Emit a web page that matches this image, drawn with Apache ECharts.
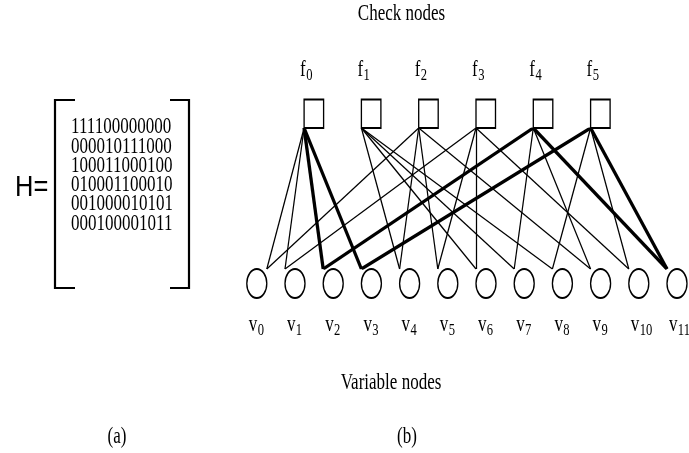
<!DOCTYPE html>
<html>
<head>
<meta charset="utf-8">
<title>Tanner graph</title>
<script src="https://cdn.jsdelivr.net/npm/echarts@6/dist/echarts.min.js"></script>
<style>
  html, body { margin: 0; padding: 0; background: #fff; }
  #chart { width: 689px; height: 453px; }
</style>
</head>
<body>
<div id="chart"></div>
<script>
// Parity-check matrix, one string per check node (row) — column i is variable node v_i.
const H_ROWS = [
  '111100000000',
  '000010111000',
  '100011000100',
  '010001100010',
  '001000010101',
  '000100001011'
];
const checkNodes = ['f0', 'f1', 'f2', 'f3', 'f4', 'f5'];
const varNodes = ['v0', 'v1', 'v2', 'v3', 'v4', 'v5', 'v6', 'v7', 'v8', 'v9', 'v10', 'v11'];
// Edges of the highlighted length-6 cycle, as [check, variable].
const cycleEdges = [[0, 2], [0, 3], [4, 2], [4, 11], [5, 3], [5, 11]];
const titleTop = 'Check nodes';
const titleBottom = 'Variable nodes';
const matrixName = 'H=';
const captionA = '(a)';
const captionB = '(b)';

// ---- layout & style ----
const SERIF = '"Liberation Serif", "Times New Roman", serif';
const SANS = '"Liberation Sans", Arial, sans-serif';
const FS = 23;          // main text size
const SUB_FS = 17;      // subscript size
const SX = 0.74;        // horizontal squeeze of all serif text
const MID = 0.3375;     // em-middle above baseline for the serif face
const GRID = { left: 246.8, top: 128, width: 420.2, height: 141 };
const NODE_W = 20, NODE_H = 29;   // variable node ellipse
const SQ_W = 19.5, SQ_H = 28.5;   // check node square
const THIN = 1.25, THICK = 3.3;

const nVar = varNodes.length;
const unitPx = GRID.width / (nVar - 1);
// check nodes sit every 1.5 variable slots
const checkX = j => 1.5 * (j + 1);
// edges meet a variable node at its upper-left; v0 is joined at its upper-right
const varAttach = i => (i === 0 ? i + NODE_W / unitPx : i);

const isCycle = (j, i) => cycleEdges.some(e => e[0] === j && e[1] === i);
const edgeData = [];
H_ROWS.forEach((row, j) => {
  row.split('').forEach((bit, i) => {
    if (bit === '1') {
      edgeData.push({
        coords: [[checkX(j), 1], [varAttach(i), 0]],
        lineStyle: { width: isCycle(j, i) ? THICK : THIN }
      });
    }
  });
});
edgeData.sort((a, b) => a.lineStyle.width - b.lineStyle.width);

const ELLIPSE = 'path://M10,0A10,14.5,0,1,1,10,29A10,14.5,0,1,1,10,0Z';

const chart = echarts.init(document.getElementById('chart'), null, { renderer: 'canvas' });
chart.setOption({
  animation: false,
  backgroundColor: '#fff',
  grid: { left: GRID.left, top: GRID.top, width: GRID.width, height: GRID.height, containLabel: false },
  xAxis: { type: 'value', min: 0, max: nVar - 1, show: false },
  yAxis: { type: 'value', min: 0, max: 1, show: false },
  series: [
    {
      type: 'lines',
      coordinateSystem: 'cartesian2d',
      polyline: false,
      silent: true,
      z: 1,
      lineStyle: { color: '#000', opacity: 1, width: THIN },
      data: edgeData
    },
    {
      type: 'scatter',
      silent: true,
      clip: false,
      z: 2,
      symbol: 'rect',
      symbolSize: [SQ_W, SQ_H],
      symbolOffset: [SQ_W / 2, -SQ_H / 2],
      itemStyle: { color: '#fff', borderColor: '#000', borderWidth: 1.6, opacity: 1 },
      data: checkNodes.map((n, j) => [checkX(j), 1])
    },
    {
      type: 'scatter',
      silent: true,
      clip: false,
      z: 2,
      symbol: ELLIPSE,
      symbolSize: [NODE_W, NODE_H],
      symbolOffset: [NODE_W / 2, NODE_H / 2],
      itemStyle: { color: '#fff', borderColor: '#000', borderWidth: 1.6, opacity: 1 },
      data: varNodes.map((n, i) => [i, 0])
    }
  ]
});

// ---- text ----
function textEl(x, y, str, size, family, align) {
  return {
    type: 'text', x: x, y: y, silent: true,
    style: {
      text: str, fontSize: size, fontFamily: family, fill: '#000',
      textAlign: align, align: align,
      textVerticalAlign: 'middle', verticalAlign: 'middle'
    }
  };
}
// squeezed serif text placed by its baseline
function squeezed(x, baseline, str, align) {
  return {
    type: 'group', x: x, y: baseline, scaleX: SX, silent: true,
    children: [textEl(0, -MID * FS, str, FS, SERIF, align)]
  };
}
// node name such as "v10" drawn as letter + subscript
function nodeLabel(left, baseline, name) {
  const letter = name[0], sub = name.slice(1);
  const adv = letter === 'f' ? 0.36 * FS : 0.52 * FS;
  return {
    type: 'group', x: left, y: baseline, scaleX: SX, silent: true,
    children: [
      textEl(0, -MID * FS, letter, FS, SERIF, 'left'),
      textEl(adv, 3 - MID * SUB_FS, sub, SUB_FS, SERIF, 'left')
    ]
  };
}

const px = (x, y) => chart.convertToPixel({ gridIndex: 0 }, [x, y]);
const graphics = [];

checkNodes.forEach((name, j) => {
  const p = px(checkX(j), 1);
  graphics.push(nodeLabel(p[0] - 4, p[1] - 50, name));
});
varNodes.forEach((name, i) => {
  const p = px(i, 0);
  graphics.push(nodeLabel(p[0] + 2, p[1] + 64, name));
});

graphics.push(squeezed(401.5, 22, titleTop, 'center'));
graphics.push(squeezed(391, 391, titleBottom, 'center'));
graphics.push(squeezed(117, 445, captionA, 'center'));
graphics.push(squeezed(407, 445, captionB, 'center'));

// matrix rows
H_ROWS.forEach((row, k) => {
  graphics.push(squeezed(71, 135 + 19.3 * k, row, 'left'));
});
// brackets
graphics.push({
  type: 'polyline', silent: true,
  shape: { points: [[75, 100], [55, 100], [55, 288], [75, 288]] },
  style: { stroke: '#000', lineWidth: 2.2, fill: null }
});
graphics.push({
  type: 'polyline', silent: true,
  shape: { points: [[170, 100], [189, 100], [189, 288], [170, 288]] },
  style: { stroke: '#000', lineWidth: 2.2, fill: null }
});
graphics.push({
  type: 'group', x: 15, y: 188, scaleX: 0.85, silent: true,
  children: [textEl(0, 0, matrixName, 30, SANS, 'left')]
});

chart.setOption({ graphic: graphics });
</script>
</body>
</html>
